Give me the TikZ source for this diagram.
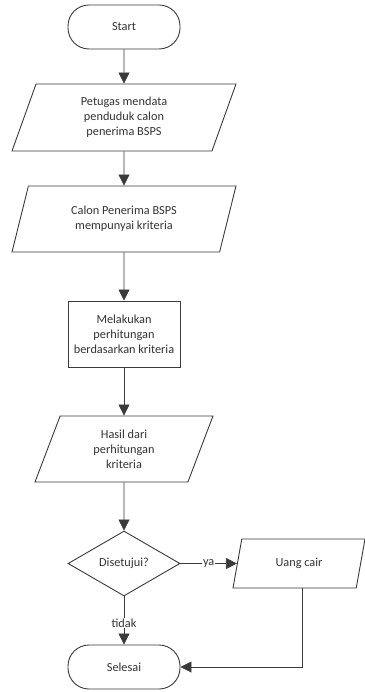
\documentclass[tikz,border=0pt]{standalone}
\usepackage{fontspec}
\setmainfont{Carlito}
\usepackage{tikz}
\usetikzlibrary{shapes.geometric, positioning, arrows.meta}
\usepackage{xcolor}
\definecolor{FlowLine}{HTML}{3A3A3A}
\definecolor{FlowText}{HTML}{333333}

\begin{document}
\begin{tikzpicture}[x=1pt, y=-1pt,
    every node/.style={font=\fontsize{12.3}{15}\selectfont, text=FlowText, align=center},
    terminal/.style={draw=FlowLine, line width=0.9pt, rectangle, rounded corners=21pt, minimum width=112pt, minimum height=44pt},
    process/.style={draw=FlowLine, line width=0.9pt, rectangle, minimum width=112pt, minimum height=66pt},
    io/.style={draw=FlowLine, line width=0.9pt, trapezium, trapezium left angle=63, trapezium right angle=117, trapezium stretches body, inner xsep=2pt},
    decision/.style={draw=FlowLine, line width=0.9pt, diamond, aspect=1.7, minimum width=112pt, minimum height=65pt, inner sep=0pt},
    flow/.style={draw=FlowLine, line width=0.8pt, -{Triangle[length=11pt, width=11pt]}},
    lbl/.style={fill=white, inner sep=1pt}]
                \useasboundingbox (0, 0) rectangle (364, 692);

                \node[terminal] (start) at (124, 27) {Start};
                \node[io, minimum width=224pt, minimum height=67pt] (data) at (124, 117.5) {Petugas mendata\\penduduk calon\\penerima BSPS};
                \node[io, minimum width=224pt, minimum height=66pt] (calon) at (124, 219) {Calon Penerima BSPS\\mempunyai kriteria};
                \node[process] (hitung) at (124, 334) {Melakukan\\perhitungan\\berdasarkan kriteria};
                \node[io, trapezium left angle=61, trapezium right angle=119, minimum width=178pt, minimum height=66pt] (hasil) at (124, 449) {Hasil dari\\perhitungan\\kriteria};
                \node[decision] (setuju) at (124, 563.5) {Disetujui?};
                \node[io, minimum width=132pt, minimum height=49pt] (uang) at (299, 563.5) {Uang cair};
                \node[terminal] (selesai) at (124, 667) {Selesai};

                % Alur utama
                \draw[flow] (start) -- (data);
                \draw[flow] (data) -- (calon);
                \draw[flow] (calon) -- (hitung);
                \draw[flow] (hitung) -- (hasil);
                \draw[flow] (hasil) -- (setuju);
                \draw[flow] (setuju) -- (uang) node[lbl, pos=0.5] {ya};
                \draw[flow] (setuju) -- (selesai) node[lbl, pos=0.55] {tidak};
                \draw[flow] ([xshift=3pt]uang.south) |- (selesai.east);
            \end{tikzpicture}
\end{document}
